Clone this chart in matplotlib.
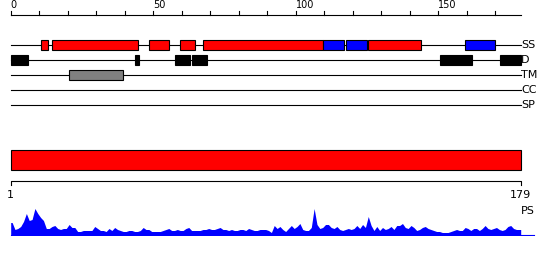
import matplotlib
matplotlib.use("Agg")
from matplotlib import pyplot as plt
import numpy as np

SEQ_LEN = 179

# secondary structure segments (residue units), red = helix, blue = strand
ss_start = [10.7, 14.6, 48.5, 59.5, 67.6, 109.7, 117.8, 125.5, 159.6]
ss_end = [13.0, 44.8, 55.7, 64.8, 109.7, 116.9, 125.0, 143.9, 169.9]
ss_kind = ["H", "H", "H", "H", "H", "E", "E", "H", "E"]

# disorder segments
d_start = [0.0, 43.6, 57.8, 63.7, 150.8, 171.8]
d_end = [6.2, 44.9, 62.8, 68.8, 161.8, 179.0]

# transmembrane segment
tm_start = [20.6]
tm_end = [39.5]

track_names = ["SS", "D", "TM", "CC", "SP"]

# PS profile, one value per residue
ps = [13, 6, 7, 9, 14, 22, 15, 16, 27, 22, 18, 15, 7, 7, 9, 10, 7, 6, 7, 7,
      11, 8, 8, 4, 4, 5, 5, 5, 5, 9, 7, 5, 5, 4, 7, 5, 8, 6, 5, 4,
      4, 5, 5, 4, 4, 5, 8, 6, 6, 4, 4, 4, 4, 5, 6, 7, 5, 5, 6, 5,
      5, 7, 8, 5, 5, 5, 5, 6, 6, 7, 6, 6, 7, 8, 6, 6, 5, 6, 5, 5,
      6, 6, 5, 7, 6, 5, 5, 6, 6, 6, 5, 3, 10, 7, 9, 6, 4, 7, 10, 7,
      9, 12, 6, 5, 5, 8, 27, 11, 7, 8, 11, 11, 8, 7, 9, 6, 5, 6, 7, 6,
      7, 10, 7, 11, 8, 19, 10, 5, 9, 5, 8, 6, 7, 9, 6, 10, 10, 12, 8, 7,
      10, 8, 5, 6, 8, 9, 7, 6, 5, 4, 4, 3, 3, 3, 4, 5, 6, 5, 5, 8,
      7, 5, 7, 7, 5, 7, 10, 7, 6, 7, 8, 6, 5, 6, 9, 10, 7, 6, 6]

ss_colors = {"H": "#ff0000", "E": "#0000ff"}

W, H = 550, 260
fig = plt.figure(figsize=(W / 100, H / 100), dpi=100)
ax = fig.add_axes([0, 0, 1, 1])
scale = 510 / SEQ_LEN
x0 = 10.7
ax.set_xlim(-x0 / scale, (W - x0) / scale)
ax.set_ylim(H, 0)
ax.axis("off")

lw = 0.8
fs = 8

# top ruler
ax.plot([0, SEQ_LEN], [15, 15], color="black", lw=lw)
for t in range(0, SEQ_LEN, 10):
    ax.plot([t, t], [15, 11], color="black", lw=lw)
    if t % 50 == 0:
        ax.text(t, 5, str(t), fontsize=7, ha="left", va="center")

# feature tracks
track_y = [45, 60, 75, 90, 105]
for name, y in zip(track_names, track_y):
    ax.plot([0, SEQ_LEN], [y, y], color="black", lw=lw, zorder=1)
    ax.text(SEQ_LEN + 0.1, y, name, fontsize=fs, ha="left", va="center")

ss_w = [e - s for s, e in zip(ss_start, ss_end)]
ax.barh([track_y[0]] * len(ss_start), ss_w, left=ss_start, height=10.5,
        color=[ss_colors[k] for k in ss_kind], edgecolor="black", lw=lw, zorder=2)
d_w = [e - s for s, e in zip(d_start, d_end)]
ax.barh([track_y[1]] * len(d_start), d_w, left=d_start, height=10.5,
        color="black", edgecolor="black", lw=lw, zorder=2)
tm_w = [e - s for s, e in zip(tm_start, tm_end)]
ax.barh([track_y[2]] * len(tm_start), tm_w, left=tm_start, height=10.5,
        color="#808080", edgecolor="black", lw=lw, zorder=2)

# full-length bar
ax.barh([160], [SEQ_LEN], left=0, height=20.3, color="#ff0000",
        edgecolor="black", lw=lw)

# bottom ruler
ax.plot([0, 0, SEQ_LEN, SEQ_LEN], [185, 180.7, 180.7, 185], color="black", lw=lw)
ax.text(0, 195.5, "1", fontsize=fs, ha="center", va="center")
ax.text(SEQ_LEN, 195.5, str(SEQ_LEN), fontsize=fs, ha="center", va="center")
ax.text(SEQ_LEN + 0.1, 211, "PS", fontsize=fs, ha="left", va="center")

# PS profile
pax = fig.add_axes([0, (H - 235.5) / H, 1, 30.5 / H])
pax.set_xlim(ax.get_xlim())
pax.set_ylim(0, 30.5)
pax.axis("off")
xs = [0] + [i + 0.5 for i in range(SEQ_LEN)] + [SEQ_LEN]
ys = [ps[0]] + ps + [ps[-1]]
pax.fill_between(xs, 0, ys, color="#0000ff", lw=0)
pax.plot([0, SEQ_LEN + 4.7], [0.3, 0.3], color="#0000ff", lw=lw)

fig.savefig("out.png", dpi=100)
